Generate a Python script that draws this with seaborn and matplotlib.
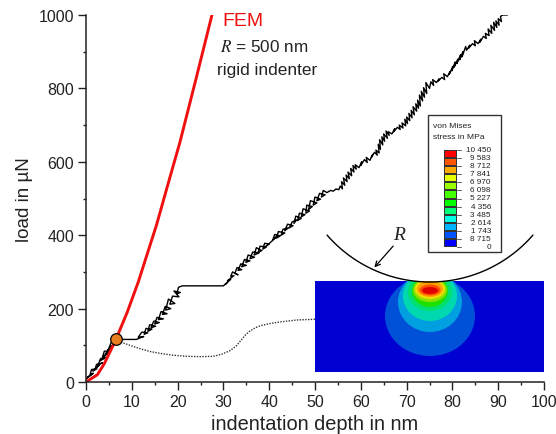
import numpy as np
import pandas as pd
import matplotlib
matplotlib.use('Agg')
import matplotlib.pyplot as plt
import seaborn as sns
from matplotlib.colors import ListedColormap
from matplotlib.patches import Ellipse, Rectangle

# FEM curve
fem_depth = [0, 2.5, 4, 6.5, 9, 11.4, 15.4, 17.9, 20.5, 24, 27.5]
fem_load = [0, 20, 50, 115, 190, 272, 428, 539, 653, 825, 1000]

# measured curve, one row of depth per row of load
exp_depth = [
    0, 1.1, 0.3, 1.6, 0.9, 1.2, 2.4, 1.5, 2.9, 2.0,
    2.3, 3.6, 2.6, 3.2, 4.3, 3.1, 4.7, 3.6, 4.0, 5.2,
    4.2, 5.6, 4.7, 6.2, 5.0, 5.5, 6.6, 5.7, 6.5, 7,
    9, 11, 12.6, 11.4, 12.2, 13.5, 12.7, 13.1, 14.4, 13.5,
    13.9, 15.2, 14.2, 14.8, 16.0, 15, 15.5, 16.9, 15.8, 16.4,
    17.7, 16.7, 17.3, 18.5, 17.4, 18, 19.4, 18.3, 18.9, 20.3,
    19.2, 20.6, 19.8, 20.2, 21, 21.5, 24, 27, 30,
    30.9, 30.4, 31.6, 30.9, 32.3, 31.6, 32, 33.2, 32.5, 33,
    34, 33.2, 33.8, 35, 34, 34.6, 35.8, 34.9, 35.4, 36.8,
    35.8, 36.4, 37.8, 36.7, 37.2, 38.4, 37.6, 38, 39.4, 38.6,
    39, 40, 39.3, 40.6, 41.6, 40.8, 41.2, 42.4, 41.6, 42,
    43.4, 42.6, 43, 44.2, 43.4, 44, 45.2, 44.4, 45, 46,
    45.4, 45.8, 47, 46.2, 46.6, 47.8, 47, 47.4, 48.8, 48,
    48.2, 49.4, 48.6, 49, 50.4, 49.6, 50, 51.2, 50.4, 51,
    52.2, 51.4, 51.8, 52.6, 53.4, 54, 54.6, 55.2,
    55.5, 56, 55.8, 56.5, 56.2, 57, 56.8, 57.5, 57.2, 58,
    57.8, 58.5, 58.3, 59, 58.8, 59.6, 60.2, 60, 60.8, 61.4,
    61.2, 62, 62.6, 62.3, 63, 63.6, 63.3, 64, 63.8, 64.3,
    64.1, 64.8, 64.6, 65.2, 65, 65.8, 65.5, 66.2, 66, 66.8,
    67.4, 67.2, 68, 68.6, 68.4, 69.2, 69, 69.8, 69.6, 70.2,
    70, 70.7, 70.5, 71.2, 71, 71.7, 71.4, 72.2, 72, 72.6,
    72.4, 73, 72.8, 73.5, 73.2, 73.9, 73.7, 74.4, 74.2, 75,
    75.3, 75.9, 75.7, 76.5, 77.1, 76.9, 77.7, 78.3, 78.1, 78.9,
    79.5, 79.3, 80.1, 79.9, 80.6, 80.4, 81.2, 81, 81.8, 81.6,
    82.3, 82.1, 82.9, 83.1, 83.8, 83.6, 84.4, 85, 84.8, 85.6,
    86.2, 86, 86.8, 87.4, 87.2, 88, 87.8, 88.6, 88.4, 89.2,
    89, 89.7, 89.5, 90.2, 90, 90.7, 90.5, 91, 91.5, 92,
]
exp_load = [
    8, 20, 12, 24, 20, 34, 36, 30, 46, 36,
    48, 52, 46, 64, 66, 58, 78, 68, 84, 84,
    76, 98, 86, 104, 92, 108, 112, 98, 115, 116,
    116, 116, 124, 122, 136, 134, 130, 146, 144, 138,
    156, 152, 148, 166, 162, 158, 176, 172, 170, 192,
    186, 184, 206, 200, 196, 226, 214, 212, 234, 232,
    248, 244, 240, 258, 262, 262, 262, 262, 262,
    272, 266, 280, 276, 290, 288, 300, 292, 296, 312,
    306, 304, 322, 318, 314, 334, 330, 326, 346, 340,
    336, 354, 352, 346, 366, 358, 354, 370, 368, 362,
    378, 376, 370, 384, 396, 388, 402, 398, 392, 410,
    406, 400, 416, 420, 412, 430, 426, 420, 436, 442,
    432, 452, 446, 440, 460, 456, 450, 472, 466, 460,
    482, 478, 470, 494, 488, 482, 504, 498, 494, 514,
    510, 504, 522, 516, 522, 520, 526, 524,
    534, 526, 546, 536, 556, 546, 564, 554, 572, 562,
    582, 572, 590, 580, 592, 584, 600, 590, 606, 598,
    612, 604, 620, 612, 626, 618, 632, 624, 648, 634,
    660, 646, 668, 656, 676, 664, 684, 672, 682, 676,
    690, 682, 694, 688, 700, 692, 706, 698, 716, 704,
    722, 712, 732, 720, 740, 728, 750, 738, 758, 746,
    768, 752, 782, 766, 792, 776, 802, 786, 816, 800,
    818, 808, 824, 816, 826, 820, 830, 824, 840, 832,
    846, 838, 860, 848, 872, 858, 880, 868, 892, 878,
    900, 886, 914, 904, 918, 910, 922, 916, 930, 922,
    934, 926, 942, 936, 950, 944, 962, 950, 972, 958,
    980, 966, 984, 972, 990, 982, 996, 1000, 1000, 1000,
]

# dotted link to the FE inset
link_depth = [6.5, 7.8, 10, 12, 14, 16.2, 19, 22, 25, 27.8, 29.5, 31.4, 32.8, 34,
              34.8, 35.8, 37, 38, 40, 42, 46, 50]
link_load = [115, 108, 98, 90, 83, 78, 73, 70, 69, 70, 75, 85, 98, 116,
             128, 139, 148, 153, 159, 163, 169, 171]

# legend
stress_labels = ['10 450', '9 583', '8 712', '7 841', '6 970', '6 098', '5 227',
                 '4 356', '3 485', '2 614', '1 743', '8 715', '0']
stress_colors = ['#ff0000', '#ff5500', '#ffaa00', '#e6ff00', '#99ff00', '#44ff00',
                 '#00ff00', '#00ff77', '#00ffe6', '#00b4ff', '#0055ff', '#0000ff']

# FE contour bands in image pixels: color, centre y, width, height
band_colors = ['#0050d8', '#00a0e0', '#00d8b0', '#00e070', '#20e000', '#90e000',
               '#f0e000', '#ffa000', '#ff5000', '#e00000']
band_cy = [317, 303, 297, 293, 292, 291, 290, 290, 291, 291.5]
band_w = [90, 64, 54, 44, 36, 34, 30, 26, 21, 16]
band_h = [80, 60, 50, 38, 32, 24, 20, 16, 11, 7]

sns.set_theme(style='ticks')
plt.rcParams['font.family'] = ['Liberation Sans', 'DejaVu Sans']

fig = plt.figure(figsize=(5.56, 4.35), dpi=100)
ax = fig.add_axes([86 / 556, 52 / 435, 458 / 556, 367 / 435])

sns.lineplot(x=link_depth, y=link_load, ax=ax, color='#333333', lw=1.0,
             linestyle=(0, (1, 1)), sort=False, estimator=None)
sns.lineplot(x=exp_depth, y=exp_load, ax=ax, color='black', lw=1.0,
             sort=False, estimator=None)
sns.lineplot(x=fem_depth, y=fem_load, ax=ax, color='#f01010', lw=2.1,
             sort=False, estimator=None)
sns.scatterplot(x=[6.5], y=[117], ax=ax, color='#e87d1e', edgecolor='black',
                s=70, linewidth=0.9, zorder=5, clip_on=False)

ax.set_xlim(0, 100)
ax.set_ylim(0, 1000)
ax.set_xticks(np.arange(0, 101, 10))
ax.set_xticks(np.arange(5, 100, 10), minor=True)
ax.set_yticks(np.arange(0, 1001, 200))
ax.set_yticks(np.arange(100, 1000, 200), minor=True)
ax.tick_params(which='major', length=5.5, width=1.0, labelsize=11.5, color='#222222',
               labelcolor='#222222', pad=3)
ax.tick_params(which='minor', length=2.5, width=1.0, color='#222222')
ax.set_xlabel('indentation depth in nm', fontsize=14.4, color='#222222', labelpad=4)
ax.set_ylabel('load in µN', fontsize=13.5, color='#222222', labelpad=4)
sns.despine(ax=ax)
for s in ['left', 'bottom']:
    ax.spines[s].set_linewidth(1.1)
    ax.spines[s].set_color('#222222')

# overlay in image pixels for the inset drawing
ov = fig.add_axes([0, 0, 1, 1], facecolor='none')
ov.set_xlim(0, 556)
ov.set_ylim(435, 0)
ov.axis('off')

block = Rectangle((315, 282), 229, 91, facecolor='#0000d2', edgecolor='none')
ov.add_patch(block)
for c, cy, w, h in zip(band_colors, band_cy, band_w, band_h):
    e = Ellipse((430, cy), w, h, facecolor=c, edgecolor='none')
    ov.add_patch(e)
    e.set_clip_path(block)

t = np.radians(np.linspace(41, 139, 100))
ov.plot(430 + 136.4 * np.cos(t), 146.6 + 136.4 * np.sin(t), color='black', lw=1.0)
ov.annotate('', xy=(372.5, 270.5), xytext=(395, 245),
            arrowprops=dict(arrowstyle='->', color='black', lw=0.9, mutation_scale=9))
ov.text(399, 236, 'R', family=['Liberation Serif'], style='italic', fontsize=14,
        ha='center', va='center', color='#222222')

ov.text(222, 22, 'FEM', color='#f01010', fontsize=14, ha='left', va='center')
ov.text(220, 47, '$\\mathit{R}$ = 500 nm', fontsize=12.3, ha='left', va='center',
        color='#222222', math_fontfamily='stix')
ov.text(217, 70, 'rigid indenter', fontsize=12.4, ha='left', va='center', color='#222222')

# stress legend
ov.add_patch(Rectangle((428, 116), 73, 137, facecolor='white', edgecolor='#333333', lw=1.0))
ov.text(433, 127, 'von Mises', fontsize=6.1, ha='left', va='center', color='#222222')
ov.text(433, 138, 'stress in MPa', fontsize=6.1, ha='left', va='center', color='#222222')

cax = fig.add_axes([444 / 556, (435 - 248) / 435, 13 / 556, 97 / 435])
bands = pd.DataFrame(np.arange(len(stress_colors)).reshape(-1, 1))
sns.heatmap(bands, ax=cax, cmap=ListedColormap(stress_colors), cbar=False,
            xticklabels=False, yticklabels=False, linewidths=0.3, linecolor='#333333')
for i, lab in enumerate(stress_labels):
    py = 151 + i * 97 / 12
    ov.plot([457, 461], [py, py], color='#444444', lw=0.6)
    ov.text(491, py - 0.5, lab, fontsize=5.9, ha='right', va='center', color='#222222')

fig.savefig('out.png', dpi=100)
print(len(exp_depth), len(exp_load))
